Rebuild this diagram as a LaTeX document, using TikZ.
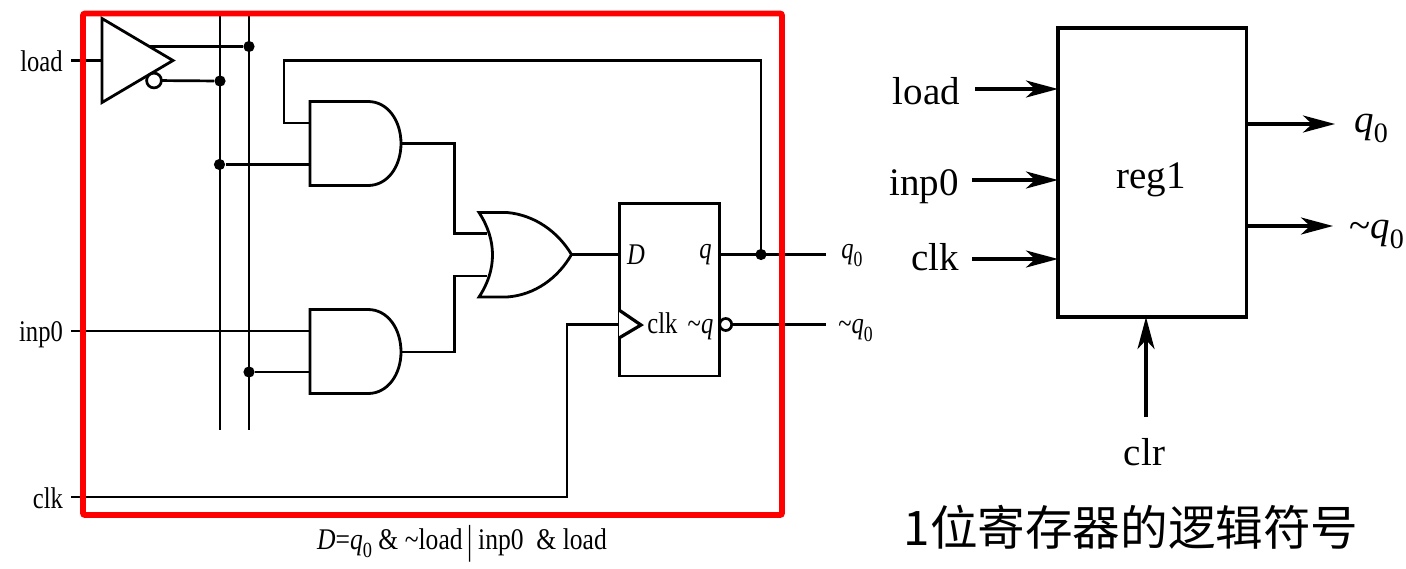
\documentclass[tikz,border=0pt]{standalone}
\usepackage{fontspec}
\setmainfont{Liberation Serif}
\newfontfamily\narrowf[FakeStretch=0.82]{Liberation Serif}
\newfontfamily\cjkf{Noto Sans CJK SC}
\usetikzlibrary{arrows.meta}
\newcommand{\smallfs}{\fontsize{15}{17}\selectfont\narrowf}
\newcommand{\bigfs}{\fontsize{19.5}{22}\selectfont}
\newcommand{\sub}[1]{\raisebox{-0.6ex}{\scalebox{0.72}{#1}}}
\tikzset{
  x=0.5pt,y=-0.5pt,
  wire/.style={line width=1.35pt,line join=miter},
  gate/.style={line width=1.4pt,fill=white,line join=miter},
  dotn/.style={circle,fill=black,inner sep=0pt,minimum size=5.6pt},
  bubble/.style={circle,draw=black,fill=white,line width=1.35pt,inner sep=0pt,minimum size=7.4pt,outer sep=0pt},
  lab/.style={inner sep=0pt,anchor=base,font=\smallfs},
  biglab/.style={inner sep=0pt,anchor=base,font=\bigfs},
  sigarrow/.style={line width=1.65pt,-{Stealth[length=16pt,width=8.5pt,inset=4.5pt]}},
  redframe/.style={draw=red,line width=2.9pt,rounded corners=1pt},
  blockbox/.style={draw=black,line width=1.65pt,inner sep=0pt,outer sep=0pt},
}
\begin{document}
\begin{tikzpicture}
\useasboundingbox (0,0) rectangle (1406,568);
% pins and bends
\coordinate (loadin) at (71,60.5);
\coordinate (invin) at (102,60.5);
\coordinate (invq) at (150,46.5);
\coordinate (topA) at (220,16);
\coordinate (botA) at (220,430);
\coordinate (topB) at (249,16);
\coordinate (botB) at (249,430);
\coordinate (andAa) at (310,123);
\coordinate (andAb) at (310,164.5);
\coordinate (andAo) at (401,143.5);
\coordinate (andBa) at (310,331);
\coordinate (andBb) at (310,372);
\coordinate (andBo) at (401,352);
\coordinate (orA) at (487,233.5);
\coordinate (orB) at (487,276);
\coordinate (oro) at (571.5,254.5);
\coordinate (ffd) at (619,254.5);
\coordinate (ffq) at (719,254.5);
\coordinate (ffc) at (619,324.5);
\coordinate (inpin) at (71,331);
\coordinate (clkin) at (71,497);
\coordinate (qend) at (826,254.5);
\coordinate (nqend) at (826,324.5);
% junctions
\node[dotn] (j1) at (249,46.5) {};
\node[dotn] (j2) at (220,81) {};
\node[dotn] (j3) at (219.5,164.5) {};
\node[dotn] (j4) at (249,372) {};
\node[dotn] (j5) at (761,254.5) {};
% wires
\draw[wire] (topA) -- (botA);
\draw[wire] (topB) -- (botB);
\draw[wire] (loadin) -- (invin);
\draw[wire] (invq) -- (j1);
\draw[wire] (j3) -- (andAb);
\draw[wire] (j4) -- (andBb);
\draw[wire] (inpin) -- (andBa);
\draw[wire] (andAa) -- (284,123) -- (284,60.5) -- (761,60.5) -- (j5);
\draw[wire] (andAo) -- (454.5,143.5) -- (454.5,233.5) -- (orA);
\draw[wire] (andBo) -- (454.5,352) -- (454.5,276) -- (orB);
\draw[wire] (oro) -- (ffd);
\draw[wire] (ffq) -- (qend);
\draw[wire] (clkin) -- (567,497) -- (567,324.5) -- (ffc);
% gates
\draw[gate] (102,18.5) -- (173,60.5) -- (102,102.5) -- cycle;
\node[bubble] (inb) at (154,80.5) {};
\draw[wire] (inb) -- (j2);
\draw[gate] (310,101.5) -- (368,101.5) .. controls (388,101.5) and (401,121) .. (andAo) .. controls (401,166) and (388,185.5) .. (368,185.5) -- (310,185.5) -- cycle;
\draw[gate] (310,309.5) -- (368,309.5) .. controls (388,309.5) and (401,329) .. (andBo) .. controls (401,374) and (388,393.5) .. (368,393.5) -- (310,393.5) -- cycle;
\draw[gate] (479,212.5) -- (507,212.5) .. controls (535,215) and (558,232) .. (oro) .. controls (558,278) and (535,295) .. (507,297) -- (479,297) .. controls (497,270) and (497,240) .. (479,212.5) -- cycle;
\node[blockbox,line width=1.35pt,minimum width=50pt,minimum height=86.4pt,anchor=north west] (ff) at (619.3,203.3) {};
\draw[gate,line width=1.6pt] (619,310) -- (641,325) -- (619,338);
\node[bubble,minimum size=6pt] (ffb) at (725.7,324.5) {};
\draw[wire] (ffb) -- (nqend);
% flip-flop and signal labels
\node[lab] (ld) at (636,264) {\itshape D};
\node[lab] (lq) at (705.5,258.5) {\itshape q};
\node[lab] (lc) at (662.5,333) {clk};
\node[lab] (lnq) at (700.5,333) {\char`\~\itshape q};
\node[lab] (lq0) at (852,258.5) {{\itshape q}\sub{0}};
\node[lab] (lnq0) at (855.5,333) {\char`\~{\itshape q}\sub{0}};
\node[lab] (lload) at (41.5,71) {load};
\node[lab] (linp) at (41,341) {inp0};
\node[lab] (lclk) at (48,508) {clk};
\node[lab] (cap) at (462,549) {\scalebox{1.04}[1]{{\itshape D}={\itshape q}\sub{0} \& \char`\~load\,\raisebox{-0.35ex}{\scalebox{1}[1.35]{|}}\,inp0\ \ \& load}};
% red frame
\draw[redframe] (83,13.5) rectangle (782,515);
% right block
\node[blockbox,minimum width=94.35pt,minimum height=144.5pt,anchor=north west] (reg) at (1058,28) {};
\node[biglab] (lreg) at (1151,188) {reg1};
\node[biglab] (rload) at (926.5,104) {load};
\node[biglab] (rinp) at (924,195) {inp0};
\node[biglab] (rclk) at (935,270) {clk};
\node[biglab] (rclr) at (1144.5,465) {clr};
\node[biglab] (rq) at (1371,132) {{\itshape q}\sub{0}};
\node[biglab] (rnq) at (1376.5,238) {\char`\~{\itshape q}\sub{0}};
\coordinate (a1) at (975,89);
\coordinate (a2) at (972,180);
\coordinate (a3) at (972,259);
\coordinate (a4) at (1146,417);
\coordinate (a5) at (1335,124);
\coordinate (a6) at (1333,226);
\draw[sigarrow] (a1) -- (a1-|reg.west);
\draw[sigarrow] (a2) -- (a2-|reg.west);
\draw[sigarrow] (a3) -- (a3-|reg.west);
\draw[sigarrow] (a4) -- (a4|-reg.south);
\draw[sigarrow] (a5-|reg.east) -- (a5);
\draw[sigarrow] (a6-|reg.east) -- (a6);
\node[inner sep=0pt,font=\fontsize{23.8}{26}\cjkf] (title) at (1131,527) {1位寄存器的逻辑符号};
\end{tikzpicture}
\end{document}
